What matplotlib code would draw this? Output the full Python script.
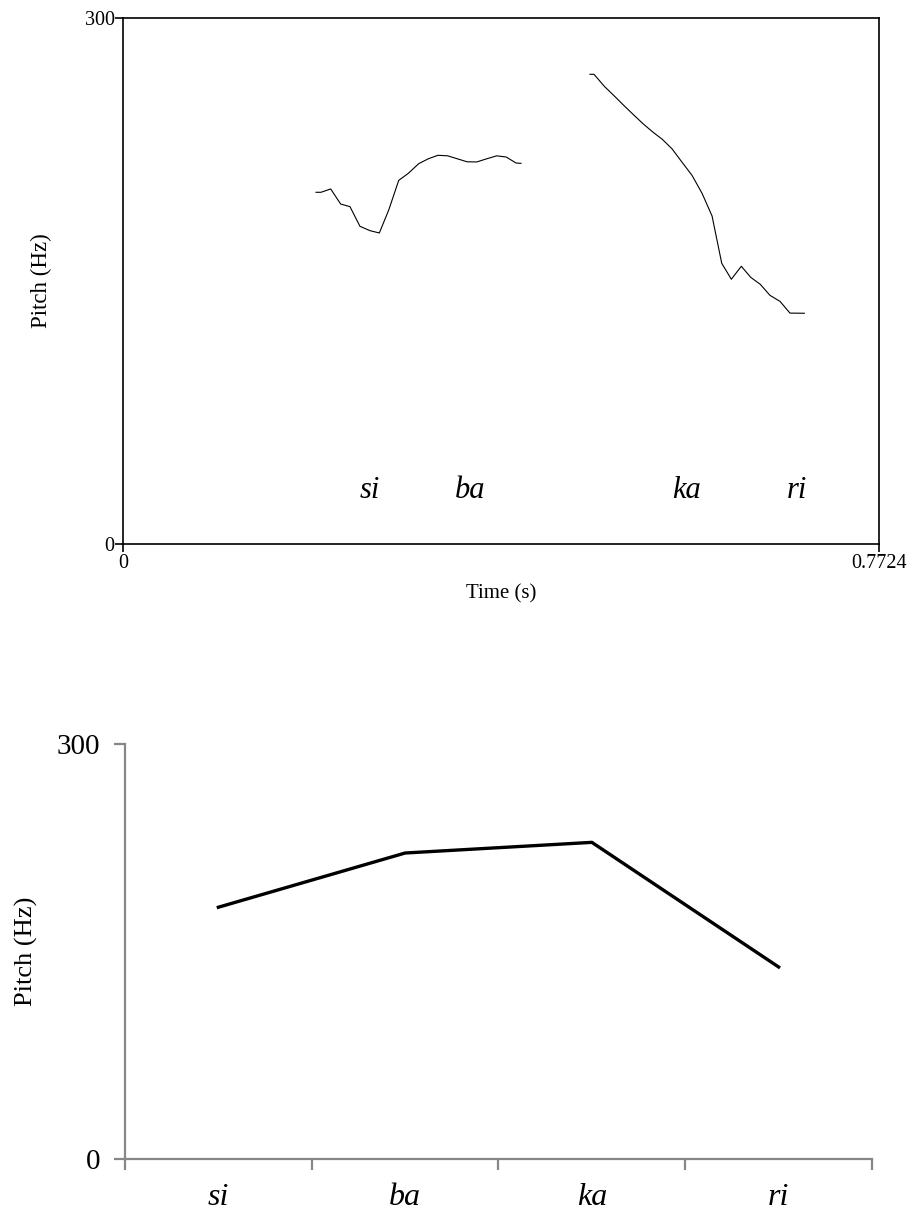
import matplotlib.pyplot as plt

plt.rcParams['font.family'] = ['Liberation Serif', 'DejaVu Serif']

# pitch track, first voiced stretch (si ba)
t1 = [0.1972, 0.2023, 0.2122, 0.2224, 0.2319, 0.2421, 0.2524, 0.2619,
      0.2715, 0.2817, 0.2915, 0.3021, 0.3119, 0.3218, 0.3317, 0.3416,
      0.3515, 0.3614, 0.3716, 0.3818, 0.3916, 0.4015, 0.4066]
f1 = [200.6, 200.6, 202.5, 193.9, 192.4, 181.2, 178.7, 177.4,
      190.5, 207.4, 211.4, 216.9, 219.7, 221.7, 221.4, 219.7,
      218.0, 217.9, 219.7, 221.4, 220.7, 217.3, 217.1]

# second voiced stretch (ka ri)
t2 = [0.4771, 0.4812, 0.4918, 0.5020, 0.5119, 0.5218, 0.5313, 0.5412,
      0.5510, 0.5609, 0.5708, 0.5813, 0.5916, 0.6018, 0.6117, 0.6215,
      0.6317, 0.6413, 0.6511, 0.6610, 0.6712, 0.6814, 0.6961]
f2 = [267.9, 267.9, 261.0, 255.5, 250.0, 244.7, 239.7, 235.0,
      230.8, 225.4, 218.0, 210.3, 200.0, 187.1, 160.1, 151.0,
      158.4, 152.1, 148.1, 141.8, 138.4, 131.7, 131.6]

syllables = ['si', 'ba', 'ka', 'ri']
syl_time = [0.2524, 0.3545, 0.5752, 0.6886]
syl_pitch = 26

t_max = 0.7724
f_max = 300

# mean pitch per syllable
mean_pitch = [182.0, 221.2, 228.9, 138.8]

fig = plt.figure(figsize=(9.13, 12.15), dpi=100)

# --- top: raw pitch contour ---
ax1 = fig.add_axes([0.1347, 0.55226, 0.8281, 0.43292])
ax1.plot(t1, f1, color='black', lw=0.8)
ax1.plot(t2, f2, color='black', lw=0.8)
for s, x in zip(syllables, syl_time):
    ax1.text(x, syl_pitch, s, ha='center', va='baseline',
             fontsize=22, style='italic')
ax1.set_xlim(0, t_max)
ax1.set_ylim(0, f_max)
ax1.set_xticks([0, t_max])
ax1.set_xticklabels(['0', '0.7724'])
ax1.set_yticks([0, f_max])
ax1.set_yticklabels(['0', '300'])
for sp in ax1.spines.values():
    sp.set_linewidth(1.2)
ax1.tick_params(direction='out', length=6, width=1.2, labelsize=14.5, pad=1)
ax1.tick_params(axis='y', pad=0)
ax1.set_ylabel('Pitch (Hz)', fontsize=16.5)
ax1.yaxis.set_label_coords(-0.094, 0.5)
ax1.set_xlabel('Time (s)', fontsize=15)
ax1.xaxis.set_label_coords(0.5, -0.077)

# --- bottom: mean pitch by syllable ---
grey = '#878787'
ax2 = fig.add_axes([0.1369, 0.04609, 0.8182, 0.34156])
ax2.plot(range(len(syllables)), mean_pitch, color='black', lw=2.4)
ax2.set_xlim(-0.5, len(syllables) - 0.5)
ax2.set_ylim(0, f_max)
ax2.spines['top'].set_visible(False)
ax2.spines['right'].set_visible(False)
for side in ['left', 'bottom']:
    ax2.spines[side].set_color(grey)
    ax2.spines[side].set_linewidth(1.6)
ax2.set_yticks([0, f_max])
ax2.set_yticklabels(['0', '300'])
ax2.set_xticks([i - 0.5 for i in range(len(syllables) + 1)])
ax2.set_xticklabels([])
ax2.set_xticks(range(len(syllables)), minor=True)
ax2.set_xticklabels(syllables, minor=True, style='italic', fontsize=23)
ax2.tick_params(which='major', direction='out', length=8, width=1.6,
                color=grey, labelsize=21, pad=10)
ax2.tick_params(axis='x', which='minor', length=0, pad=17)
ax2.set_ylabel('Pitch (Hz)', fontsize=19)
ax2.yaxis.set_label_coords(-0.117, 0.5)

fig.savefig('out.png', dpi=100)
